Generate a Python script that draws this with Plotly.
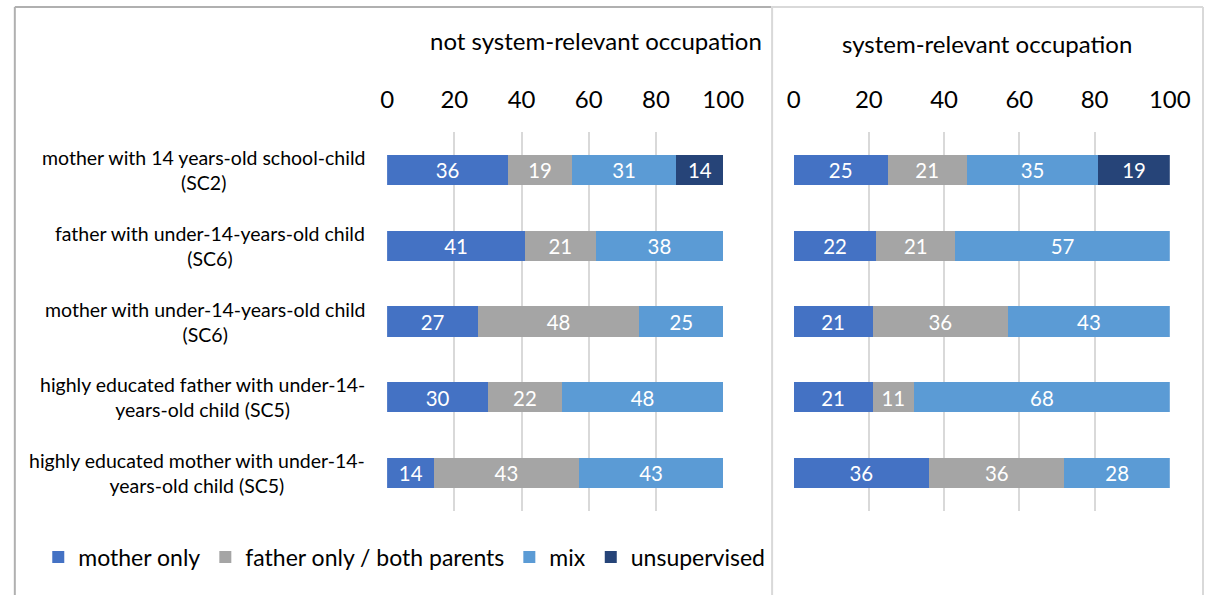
import plotly.graph_objects as go

# categories, top to bottom
categories = [
    "mother with 14 years-old school-child<br>(SC2)",
    "father with under-14-years-old child<br>(SC6)",
    "mother with under-14-years-old child<br>(SC6)",
    "highly educated father with under-14-<br>years-old child (SC5)",
    "highly educated mother with under-14-<br>years-old child (SC5)",
]
series_names = ["mother only", "father only / both parents", "mix", "unsupervised"]
series_colors = ["#4472C4", "#A5A5A5", "#5B9BD5", "#264478"]

# not system-relevant occupation
nsr_mother = [36, 41, 27, 30, 14]
nsr_father = [19, 21, 48, 22, 43]
nsr_mix = [31, 38, 25, 48, 43]
nsr_unsup = [14, None, None, None, None]

# system-relevant occupation
sr_mother = [25, 22, 21, 21, 36]
sr_father = [21, 21, 36, 11, 36]
sr_mix = [35, 57, 43, 68, 28]
sr_unsup = [19, None, None, None, None]

panel_titles = ["not system-relevant occupation", "system-relevant occupation"]
tick_vals = [0, 20, 40, 60, 80, 100]

FONT = "Lato"
W, H = 1225, 595


def px(x):
    return x / W


def py(y):
    return 1 - y / H


fig = go.Figure()

panels = [
    ("x", "y", [nsr_mother, nsr_father, nsr_mix, nsr_unsup], True),
    ("x2", "y2", [sr_mother, sr_father, sr_mix, sr_unsup], False),
]
for xa, ya, values, show in panels:
    for name, color, vals in zip(series_names, series_colors, values):
        fig.add_trace(go.Bar(
            y=categories, x=vals, name=name, orientation="h",
            marker=dict(color=color, line=dict(width=0)),
            text=vals, texttemplate="%{x}", textposition="inside",
            insidetextanchor="middle", textangle=0,
            textfont=dict(color="white", size=21, family=FONT),
            xaxis=xa, yaxis=ya, showlegend=show, legendgroup=name,
            hoverinfo="skip",
        ))

axis_common = dict(
    range=[0, 100], tickvals=tick_vals, side="top", showgrid=True,
    gridcolor="#d9d9d9", gridwidth=1.5, zeroline=False, showline=False,
    tickfont=dict(size=24, family=FONT, color="#000000"), ticklabelstandoff=18,
    fixedrange=True,
)
ydom = [py(511), py(132)]

fig.update_layout(
    width=W, height=H, autosize=False,
    margin=dict(l=0, r=0, t=0, b=0),
    paper_bgcolor="white", plot_bgcolor="white",
    barmode="stack", bargap=0.6,
    font=dict(family=FONT, color="#000000"),
    xaxis=dict(domain=[px(389), px(733)], anchor="y", **axis_common),
    xaxis2=dict(domain=[px(805), px(1190)], anchor="y2", **axis_common),
    yaxis=dict(domain=ydom, anchor="x", autorange="reversed", showticklabels=False,
               showgrid=False, zeroline=False),
    yaxis2=dict(domain=ydom, anchor="x2", autorange="reversed", showticklabels=False,
                showgrid=False, zeroline=False),
    legend=dict(orientation="h", x=px(32), y=py(557), xanchor="left", yanchor="middle",
                font=dict(size=23, family=FONT), traceorder="normal",
                itemwidth=30, tracegroupgap=0),
)

# category labels
for cat in categories:
    fig.add_annotation(
        text=cat, xref="paper", yref="y", x=px(368), y=cat,
        xanchor="right", yanchor="middle", align="center", showarrow=False,
        font=dict(size=19.5, family=FONT, color="#000000"),
    )

# panel titles
fig.add_annotation(text=panel_titles[0], xref="paper", yref="paper", x=px(775), y=py(41),
                   xanchor="right", yanchor="middle", showarrow=False,
                   font=dict(size=24, family=FONT, color="#000000"))
fig.add_annotation(text=panel_titles[1], xref="paper", yref="paper", x=px(1003), y=py(44),
                   xanchor="center", yanchor="middle", showarrow=False,
                   font=dict(size=24, family=FONT, color="#000000"))

# chart frames
fig.add_shape(type="line", xref="paper", yref="paper", x0=px(8), x1=px(8), y0=py(7), y1=0,
              line=dict(color="#b0b0b0", width=2))
fig.add_shape(type="line", xref="paper", yref="paper", x0=px(8), x1=px(782), y0=py(7), y1=py(7),
              line=dict(color="#b0b0b0", width=2))
fig.add_shape(type="line", xref="paper", yref="paper", x0=px(783), x1=px(783), y0=py(7), y1=0,
              line=dict(color="#d9d9d9", width=2))
fig.add_shape(type="line", xref="paper", yref="paper", x0=px(782), x1=px(1224), y0=py(7), y1=py(7),
              line=dict(color="#d9d9d9", width=2))
fig.add_shape(type="line", xref="paper", yref="paper", x0=px(1224), x1=px(1224), y0=py(7), y1=0,
              line=dict(color="#d9d9d9", width=2))

# page sits flush with the window so the figure is not shifted or scrolled
fig.write_html("out.html",
               config={"displayModeBar": False, "responsive": False},
               post_script="document.body.style.margin='0';document.body.style.overflow='hidden';")
